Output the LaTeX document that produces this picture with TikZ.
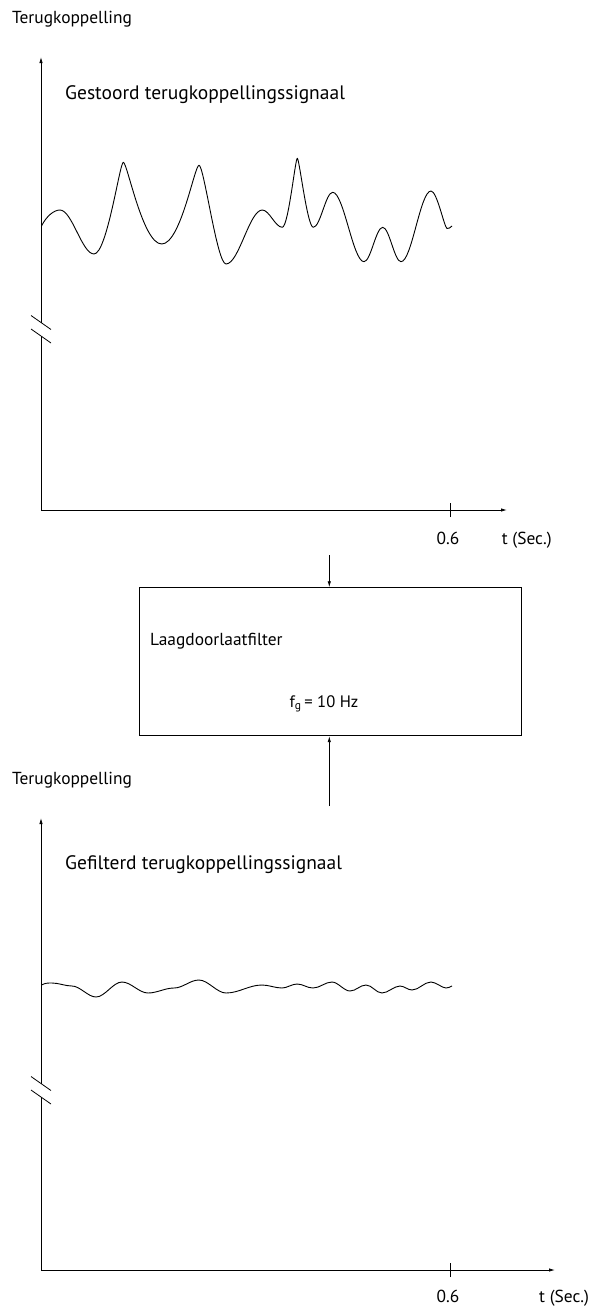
\documentclass[tikz,border=0pt]{standalone}
\usepackage{fontspec}
\setmainfont{PT Sans}
\usetikzlibrary{arrows.meta}
\begin{document}
\begin{tikzpicture}[x=1pt,y=-1pt,
  axis/.style={line width=0.8pt, -{Latex[length=6pt,width=3.4pt]}},
  plain/.style={line width=0.8pt},
  signal/.style={line width=0.9pt, line join=round},
  lbl/.style={inner sep=0pt, anchor=base west, font=\fontsize{17.4}{20}\selectfont},
  midlbl/.style={inner sep=0pt, anchor=base, font=\fontsize{17.4}{20}\selectfont},
  titlelbl/.style={inner sep=0pt, anchor=base west, font=\fontsize{19.5}{23}\selectfont},
  filterbox/.style={draw, line width=0.8pt, minimum width=381.7pt, minimum height=148pt, inner sep=0pt}]
\useasboundingbox (0,0) rectangle (590,1309);

% ---------- upper graph: disturbed feedback signal ----------
\node[lbl] (ylab1) at (12,23.3) {Terugkoppelling};
\node[titlelbl] (title1) at (65,99) {Gestoord terugkoppellingssignaal};
\coordinate (o1) at (41,510);
\coordinate (ytop1) at (41,57);
\coordinate (xend1) at (507,510);
\coordinate (brkA1) at (41,322.5);
\coordinate (brkB1) at (41,336);
\draw[axis] (brkA1) -- (ytop1);
\draw[plain] (o1) -- (brkB1);
\draw[axis] (o1) -- (xend1);
\draw[plain] ([xshift=-10pt,yshift=7pt]brkA1) -- ([xshift=10pt,yshift=-7pt]brkA1);
\draw[plain] ([xshift=-10pt,yshift=7pt]brkB1) -- ([xshift=10pt,yshift=-7pt]brkB1);
\coordinate (tick1) at (450.7,510);
\draw[plain] ([yshift=-7pt]tick1) -- ([yshift=7pt]tick1);
\node[midlbl] (t06a) at (448,544) {0.6};
\node[lbl] (tsec1) at (501.7,544) {t (Sec.)};

\draw[signal] (41.5,226)
  .. controls +(5,-10) and +(-6,0) .. (60,210)
  .. controls +(12,0) and +(-12,0) .. (94,254)
  .. controls +(13,0) and +(-3.5,0) .. (123.3,162.3)
  .. controls +(4,0) and +(-19,0) .. (161.7,244)
  .. controls +(19,0) and +(-4.5,0) .. (199,165.3)
  .. controls +(5,0) and +(-9,0) .. (226,264)
  .. controls +(13,0) and +(-13,0) .. (262.3,210)
  .. controls +(7,0) and +(-7,0) .. (282.3,227.3)
  .. controls +(6,0) and +(-2,0) .. (297.3,158.3)
  .. controls +(2,0) and +(-6,0) .. (313.3,227.3)
  .. controls +(7,0) and +(-7,0) .. (332.7,192.3)
  .. controls +(11,0) and +(-11,0) .. (364,261.7)
  .. controls +(6.7,0) and +(-6.7,0) .. (382.7,227.3)
  .. controls +(6.6,0) and +(-6.6,0) .. (401,261.7)
  .. controls +(10.8,0) and +(-10.8,0) .. (431,191)
  .. controls +(6,0) and +(-3,-2) .. (447,228.5)
  .. controls +(2,1) and +(-2,1) .. (452,226);

% ---------- low-pass filter ----------
\node[filterbox] (filter) at (330.15,661.7) {};
\node[lbl] (flab) at (150,645) {Laagdoorlaatfilter};
\node[midlbl, font=\fontsize{16.6}{19}\selectfont] (fg) at (324,707) {f\textsubscript{g}\,= 10 Hz};
\coordinate (in1) at (329.3,555);
\coordinate (in2) at (329.3,806);
\draw[axis] (in1) -- (in1 |- filter.north);
\draw[axis] (in2) -- (in2 |- filter.south);

% ---------- lower graph: filtered feedback signal ----------
\node[lbl] (ylab2) at (12,784.3) {Terugkoppelling};
\node[titlelbl] (title2) at (65,869) {Gefilterd terugkoppellingssignaal};
\coordinate (o2) at (41,1270);
\coordinate (ytop2) at (41,818);
\coordinate (xend2) at (555,1270);
\coordinate (brkA2) at (41,1083.5);
\coordinate (brkB2) at (41,1097);
\draw[axis] (brkA2) -- (ytop2);
\draw[plain] (o2) -- (brkB2);
\draw[axis] (o2) -- (xend2);
\draw[plain] ([xshift=-10pt,yshift=7pt]brkA2) -- ([xshift=10pt,yshift=-7pt]brkA2);
\draw[plain] ([xshift=-10pt,yshift=7pt]brkB2) -- ([xshift=10pt,yshift=-7pt]brkB2);
\coordinate (tick2) at (450.7,1270);
\draw[plain] ([yshift=-7pt]tick2) -- ([yshift=7pt]tick2);
\node[midlbl] (t06b) at (448,1302) {0.6};
\node[lbl] (tsec2) at (539,1302) {t (Sec.)};

\draw[signal] (41.5,985)
  .. controls +(4,-2) and +(-5,0) .. (52,983)
  .. controls +(7,0) and +(-7,0) .. (72,986)
  .. controls +(8,0) and +(-8,0) .. (96,997)
  .. controls +(9,0) and +(-9,0) .. (122,982)
  .. controls +(9,0) and +(-9,0) .. (148,993)
  .. controls +(9,0) and +(-9,0) .. (174,988)
  .. controls +(9,0) and +(-9,0) .. (199,980)
  .. controls +(9,0) and +(-9,0) .. (226,993)
  .. controls +(13,0) and +(-13,0) .. (262,985)
  .. controls +(7,0) and +(-7,0) .. (282,988)
  .. controls +(5,0) and +(-5,0) .. (297,984)
  .. controls +(6,0) and +(-6,0) .. (313,988)
  .. controls +(7,0) and +(-7,0) .. (332,982)
  .. controls +(6,0) and +(-6,0) .. (350,991)
  .. controls +(6,0) and +(-6,0) .. (366,985)
  .. controls +(6,0) and +(-6,0) .. (382,993)
  .. controls +(6,0) and +(-6,0) .. (400,986)
  .. controls +(4,0) and +(-4,0) .. (412,990)
  .. controls +(7,0) and +(-7,0) .. (431,982)
  .. controls +(5,0) and +(-4,0) .. (446,988)
  .. controls +(2,0) and +(-2,1) .. (452,986);
\end{tikzpicture}
\end{document}
